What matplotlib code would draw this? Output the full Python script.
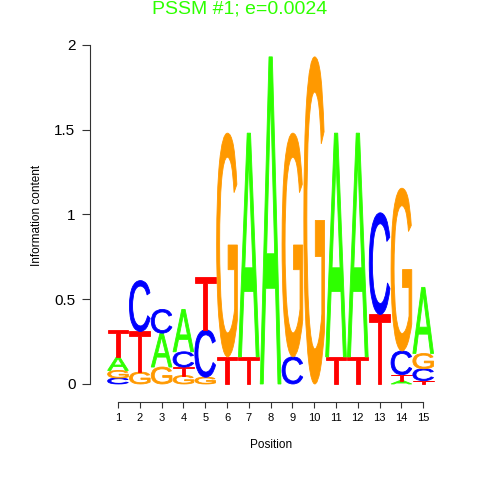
import matplotlib
matplotlib.use("Agg")
import matplotlib.pyplot as plt
from matplotlib.textpath import TextPath
from matplotlib.patches import PathPatch
from matplotlib.font_manager import FontProperties
from matplotlib.transforms import Affine2D

# letters of each column, bottom to top, and their heights (bits)
positions = list(range(1, 16))
letters = ["CGAT", "GTC", "GAC", "GTCA", "GCT", "TG", "TA", "A",
           "CG", "G", "TA", "TA", "TC", "ATCG", "TCGA"]
heights = [
    [0.035, 0.045, 0.08, 0.16],
    [0.07, 0.24, 0.30],
    [0.10, 0.20, 0.14],
    [0.05, 0.05, 0.09, 0.25],
    [0.04, 0.28, 0.31],
    [0.16, 1.32],
    [0.16, 1.32],
    [1.93],
    [0.16, 1.32],
    [1.93],
    [0.16, 1.32],
    [0.16, 1.32],
    [0.41, 0.60],
    [0.02, 0.035, 0.14, 0.96],
    [0.02, 0.07, 0.09, 0.39],
]
colors = {"A": "#2EFF00", "C": "#0000FF", "G": "#FF9900", "T": "#FF0000"}

fp = FontProperties(family="Liberation Sans")


def letter(ax, ch, x, y, w, h):
    # stretch glyph to fill the box
    tp = TextPath((0, 0), ch, size=1, prop=fp)
    bb = tp.get_extents()
    t = Affine2D().translate(-bb.x0, -bb.y0).scale(w / bb.width, h / bb.height).translate(x - w / 2, y)
    ax.add_patch(PathPatch(t.transform_path(tp), fc=colors[ch], ec=colors[ch], lw=0.6, clip_on=False))


fig = plt.figure(figsize=(4.8, 4.8), dpi=100)
ax = fig.add_axes([90 / 480, 65 / 480, 350 / 480, 370 / 480])
ax.set_xlim(-0.284, 15.77)
ax.set_ylim(-0.183, 2.0)

for p, lets, hs in zip(positions, letters, heights):
    y = 0
    for ch, h in zip(lets, hs):
        letter(ax, ch, p, y, 0.95, h)
        y += h

for s in ["top", "right"]:
    ax.spines[s].set_visible(False)
ax.spines["left"].set_bounds(0, 2)
ax.spines["bottom"].set_bounds(1, 15)
ax.spines["bottom"].set_position(("data", -0.106))
ax.spines["left"].set_color("#333333")
ax.spines["bottom"].set_color("#333333")

ax.set_yticks([0, 0.5, 1, 1.5, 2])
ax.set_yticklabels(["0", "0.5", "1", "1.5", "2"])
ax.set_xticks(positions)
ax.set_xticklabels([str(p) for p in positions])
ax.tick_params(axis="y", length=5.5, pad=5, labelsize=11, color="#333333")
ax.tick_params(axis="x", length=4.3, pad=4, labelsize=8, color="#333333")
for lb in ax.get_xticklabels() + ax.get_yticklabels():
    lb.set_family("Liberation Sans")

fig.text(37 / 480, 1 - 215 / 480, "Information content", rotation=90,
         ha="center", va="center", fontsize=8.5, family="Liberation Sans")
fig.text(271 / 480, 1 - 445 / 480, "Position", ha="center", va="center",
         fontsize=8.5, family="Liberation Sans")
fig.text(0.5, 1 - 9 / 480, "PSSM #1; e=0.0024", ha="center", va="center",
         fontsize=14, color="#2EFF00", family="Liberation Sans")

fig.savefig("out.png", dpi=100)
